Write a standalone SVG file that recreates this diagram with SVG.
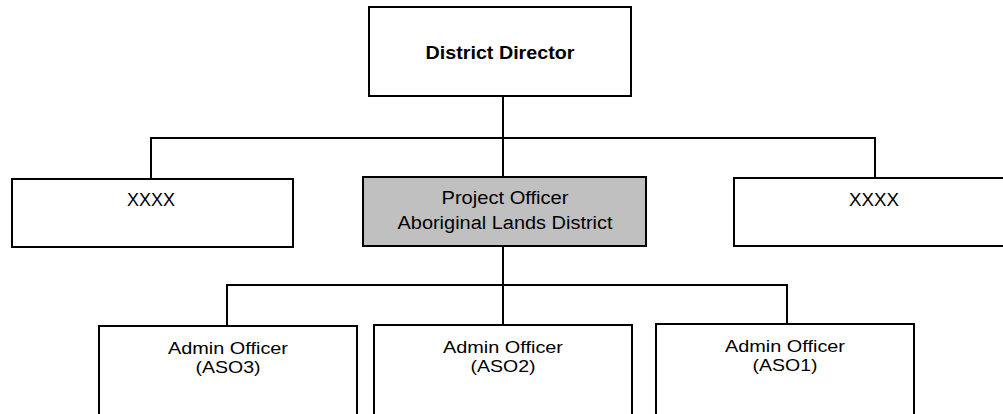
<svg xmlns="http://www.w3.org/2000/svg" width="1003" height="414" viewBox="0 0 1003 414">
<style>
.box{fill:#ffffff;stroke:#000000;stroke-width:2}
.grey{fill:#c0c0c0}
.t{font-family:"Liberation Sans",Arial,sans-serif;font-size:18px;fill:#000000;text-anchor:middle}
.s{font-size:17px}
.b{font-weight:bold}
.conn{stroke:#000000;stroke-width:2;fill:none}
</style>
<rect width="1003" height="414" fill="#ffffff"/>
<g id="connectors">
<path class="conn" d="M503,96 V177"/>
<path class="conn" d="M151,179 V138 H875 V178"/>
<path class="conn" d="M503,246 V325"/>
<path class="conn" d="M227,326 V285 H787 V324"/>
</g>
<g id="district-director">
<rect class="box" x="369" y="7" width="262" height="89"/>
<text class="t b" x="500" y="59" textLength="149" lengthAdjust="spacingAndGlyphs">District Director</text>
</g>
<g id="xxxx-left">
<rect class="box" x="12" y="179" width="281" height="68"/>
<text class="t" x="151" y="206" textLength="48" lengthAdjust="spacingAndGlyphs">XXXX</text>
</g>
<g id="project-officer">
<rect class="box grey" x="363" y="177" width="283" height="69"/>
<text class="t" x="505" y="204" textLength="127" lengthAdjust="spacingAndGlyphs">Project Officer</text>
<text class="t" x="505" y="229" textLength="215" lengthAdjust="spacingAndGlyphs">Aboriginal Lands District</text>
</g>
<g id="xxxx-right">
<rect class="box" x="734" y="178" width="280" height="68"/>
<text class="t" x="874" y="206" textLength="50" lengthAdjust="spacingAndGlyphs">XXXX</text>
</g>
<g id="admin-aso3">
<rect class="box" x="99" y="326" width="258" height="100"/>
<text class="t s" x="228" y="354" textLength="120" lengthAdjust="spacingAndGlyphs">Admin Officer</text>
<text class="t s" x="228" y="373" textLength="65" lengthAdjust="spacingAndGlyphs">(ASO3)</text>
</g>
<g id="admin-aso2">
<rect class="box" x="374" y="325" width="258" height="100"/>
<text class="t s" x="503" y="353" textLength="120" lengthAdjust="spacingAndGlyphs">Admin Officer</text>
<text class="t s" x="503" y="372" textLength="65" lengthAdjust="spacingAndGlyphs">(ASO2)</text>
</g>
<g id="admin-aso1">
<rect class="box" x="656" y="324" width="258" height="100"/>
<text class="t s" x="785" y="352" textLength="120" lengthAdjust="spacingAndGlyphs">Admin Officer</text>
<text class="t s" x="785" y="371" textLength="65" lengthAdjust="spacingAndGlyphs">(ASO1)</text>
</g>
</svg>
